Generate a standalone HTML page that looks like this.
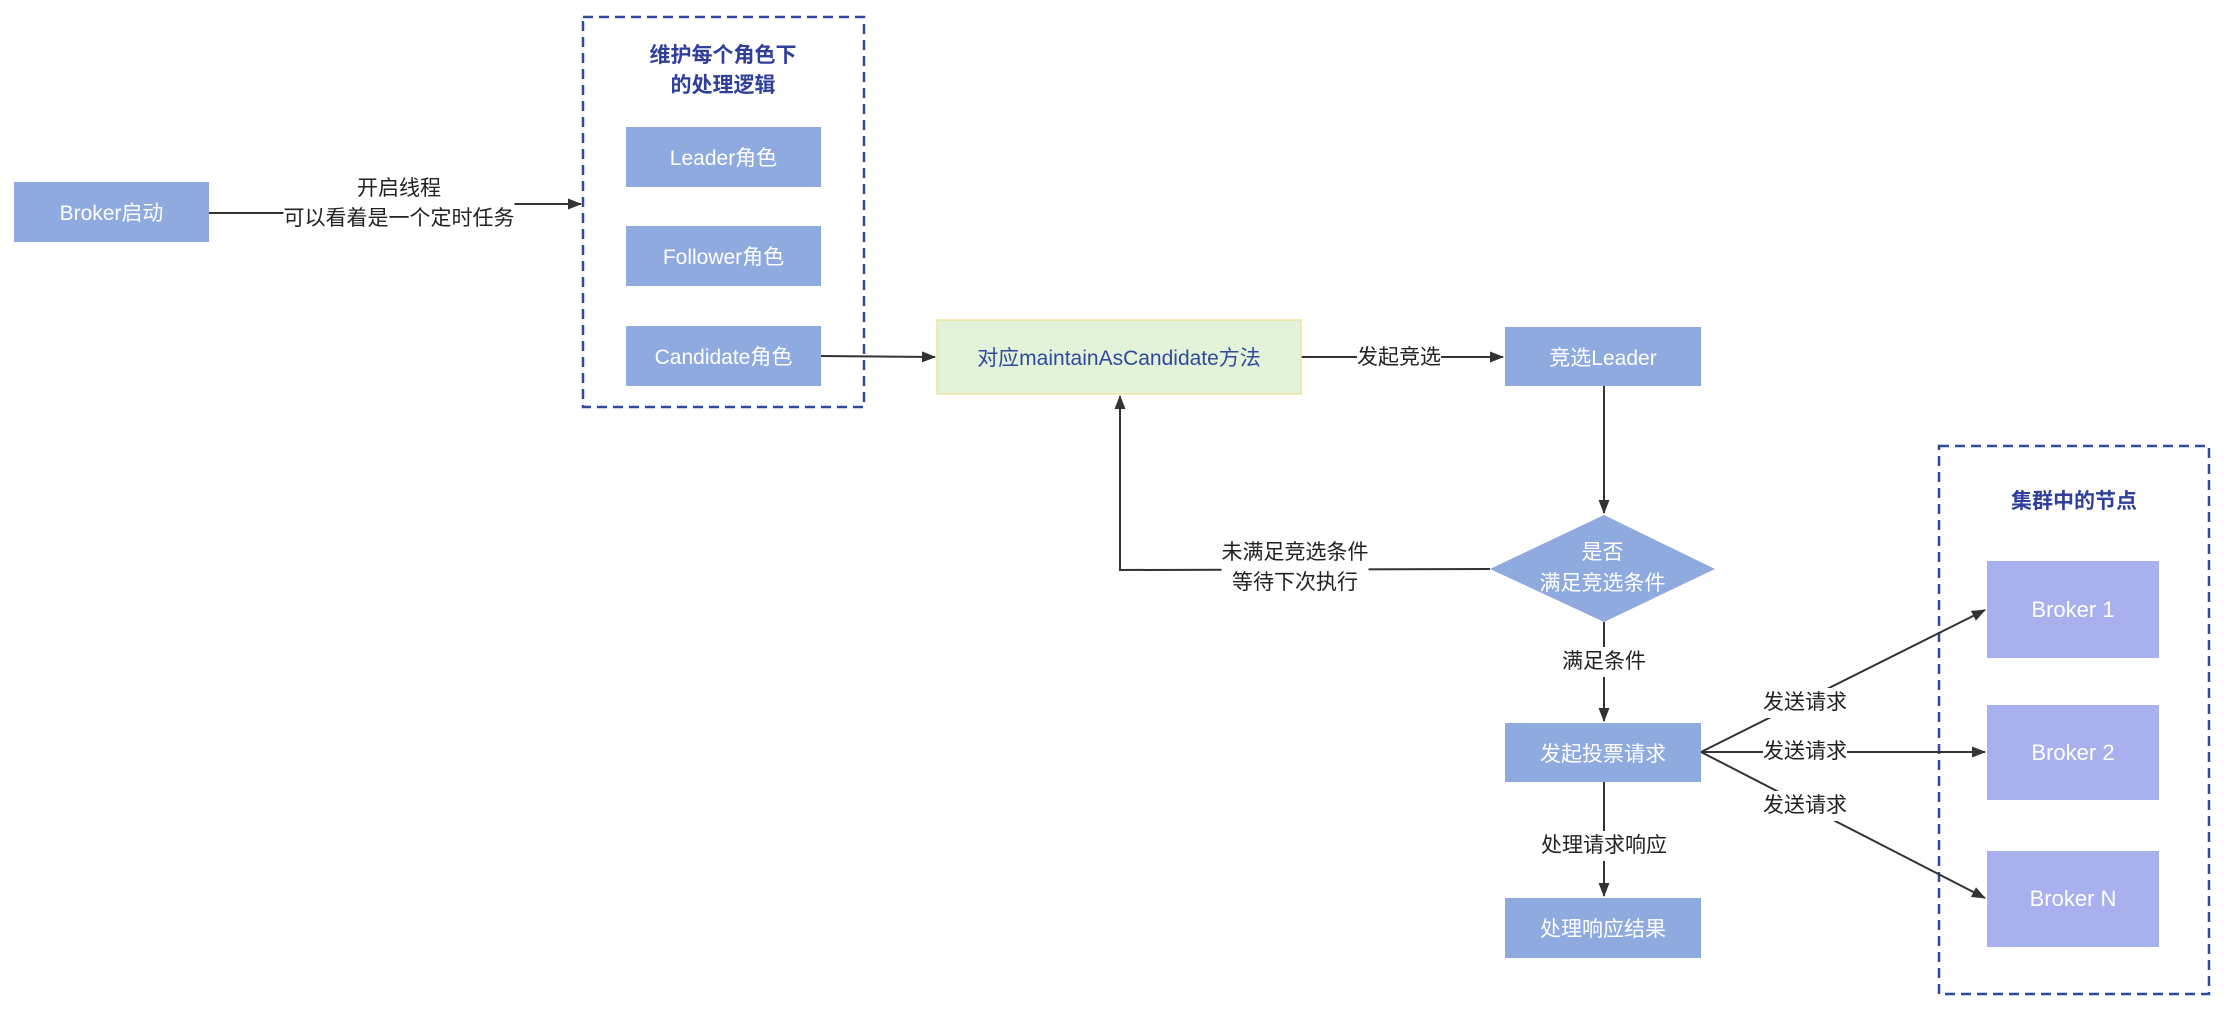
<!DOCTYPE html>
<html><head><meta charset="utf-8"><style>
body{margin:0;width:2232px;height:1016px;background:#fff;overflow:hidden;position:relative;font-family:"Liberation Sans","Noto Sans CJK SC",sans-serif;}
.b{position:absolute;background:#8eaadf;color:#fff;display:flex;align-items:center;justify-content:center;font-size:21px;}
.n{background:#a8b0ee;font-size:22px;}
.l{position:absolute;color:#222;font-size:21px;text-align:center;background:#fff;line-height:30px;transform:translate(-50%,-50%);white-space:nowrap;}
.t{position:absolute;color:#2f3f9a;font-weight:bold;font-size:21px;text-align:center;line-height:30px;transform:translate(-50%,-50%);white-space:nowrap;}
svg{position:absolute;left:0;top:0;}
</style></head><body>
<svg width="2232" height="1016">
<defs><marker id="a" markerWidth="14" markerHeight="11" refX="13" refY="5.5" orient="auto" markerUnits="userSpaceOnUse"><path d="M0,0L14,5.5L0,11z" fill="#333"/></marker></defs>
<rect x="583" y="17" width="281" height="390" fill="none" stroke="#2f4a9a" stroke-width="2.5" stroke-dasharray="10,6"/>
<rect x="1939" y="446" width="270" height="548" fill="none" stroke="#2f4a9a" stroke-width="2.5" stroke-dasharray="10,6"/>
<g stroke="#333" stroke-width="2" fill="none">
<polyline points="209,213 400,213 400,204 581,204" marker-end="url(#a)"/>
<line x1="821" y1="356" x2="935" y2="357" marker-end="url(#a)"/>
<line x1="1301" y1="357" x2="1503" y2="357" marker-end="url(#a)"/>
<line x1="1604" y1="386" x2="1604" y2="513" marker-end="url(#a)"/>
<polyline points="1490,569 1120,570 1120,396" marker-end="url(#a)"/>
<line x1="1604" y1="622" x2="1604" y2="721" marker-end="url(#a)"/>
<line x1="1604" y1="782" x2="1604" y2="896" marker-end="url(#a)"/>
<line x1="1701" y1="752" x2="1985" y2="610" marker-end="url(#a)"/>
<line x1="1701" y1="752" x2="1985" y2="752" marker-end="url(#a)"/>
<line x1="1701" y1="752" x2="1985" y2="898" marker-end="url(#a)"/>
</g>
<rect x="937" y="320" width="364" height="74" fill="#e3f3d9" stroke="#f0e2a0" stroke-width="1.5"/>
<polygon points="1604,515 1715,569 1604,622 1490,569" fill="#8eaadf"/>
</svg>
<div class="b" style="left:14px;top:182px;width:195px;height:60px">Broker启动</div>
<div class="t" style="left:723px;top:71px">维护每个角色下<br>的处理逻辑</div>
<div class="b" style="left:626px;top:127px;width:195px;height:60px">Leader角色</div>
<div class="b" style="left:626px;top:226px;width:195px;height:60px">Follower角色</div>
<div class="b" style="left:626px;top:326px;width:195px;height:60px">Candidate角色</div>
<div class="l" style="left:399px;top:204px">开启线程<br>可以看着是一个定时任务</div>
<div style="position:absolute;left:937px;top:320px;width:364px;height:74px;display:flex;align-items:center;justify-content:center;color:#2f4a9a;font-size:21px">对应maintainAsCandidate方法</div>
<div class="l" style="left:1399px;top:358px">发起竞选</div>
<div class="b" style="left:1505px;top:327px;width:196px;height:59px">竞选Leader</div>
<div style="position:absolute;left:1490px;top:537px;width:225px;color:#fff;font-size:21px;text-align:center;line-height:31px">是否<br>满足竞选条件</div>
<div class="l" style="left:1295px;top:568px">未满足竞选条件<br>等待下次执行</div>
<div class="l" style="left:1604px;top:662px">满足条件</div>
<div class="b" style="left:1505px;top:723px;width:196px;height:59px">发起投票请求</div>
<div class="l" style="left:1604px;top:846px">处理请求响应</div>
<div class="b" style="left:1505px;top:898px;width:196px;height:60px">处理响应结果</div>
<div class="l" style="left:1805px;top:703px">发送请求</div>
<div class="l" style="left:1805px;top:752px">发送请求</div>
<div class="l" style="left:1805px;top:806px">发送请求</div>
<div class="t" style="left:2074px;top:502px">集群中的节点</div>
<div class="b n" style="left:1987px;top:561px;width:172px;height:97px">Broker 1</div>
<div class="b n" style="left:1987px;top:705px;width:172px;height:95px">Broker 2</div>
<div class="b n" style="left:1987px;top:851px;width:172px;height:96px">Broker N</div>
</body></html>
